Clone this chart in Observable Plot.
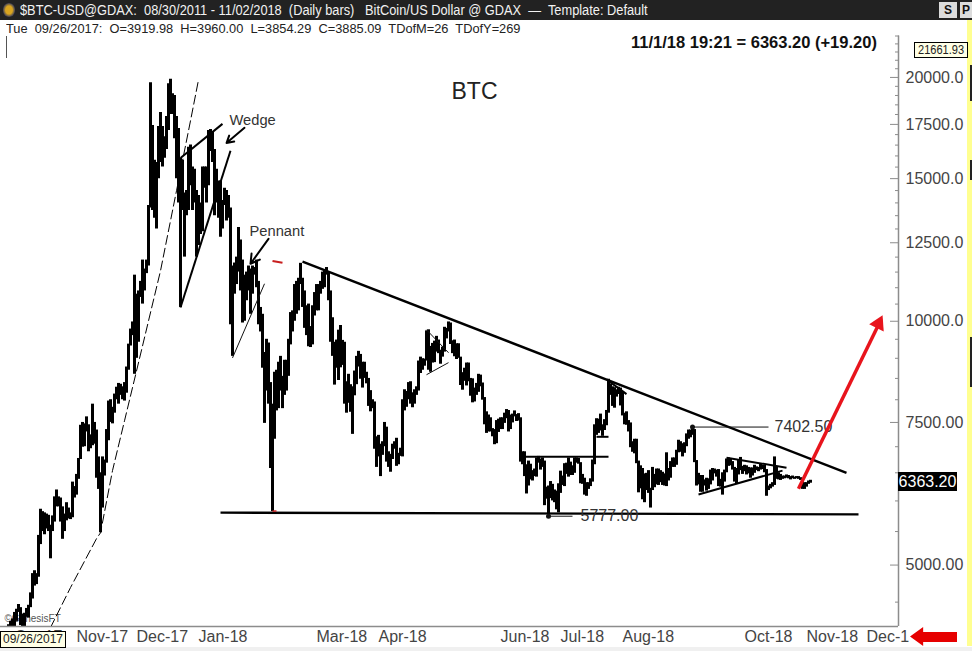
<!DOCTYPE html>
<html><head><meta charset="utf-8">
<script src="https://cdn.jsdelivr.net/npm/d3@7"></script>
<script src="https://cdn.jsdelivr.net/npm/@observablehq/plot@0.6"></script>
<style>
html,body{margin:0;padding:0;background:#fff;width:972px;height:651px;overflow:hidden;font-family:"Liberation Sans",Arial,sans-serif}
.abs{position:absolute;white-space:pre}
#bar{left:0;top:0;width:972px;height:20px;background:#222}
#title{left:20px;top:2px;color:#f2f2f2;font-size:14px;line-height:16px;transform:scaleX(.915);transform-origin:0 0}
#emblem{left:3px;top:3px;width:12px;height:14px;border-radius:6px;background:radial-gradient(#d9a520 40%,#27305e 75%)}
.btn{top:2px;height:16px;background:#dcdcdc;color:#111;font:bold 12px/16px "Liberation Sans";text-align:center}
#info{left:6px;top:21px;color:#222;font-size:13px;line-height:15px;transform:scaleX(.985);transform-origin:0 0}
#quote{left:631px;top:33px;color:#111;font-size:16.5px;line-height:19px;font-weight:bold}
#cursor{left:6px;top:36px;width:1px;height:22px;background:#555}
#chart{left:0;top:20px}
#hi{left:914px;top:42px;width:52px;height:14px;background:#ffffe6;border:1px solid #000;color:#222;font-size:12px;line-height:14px;text-align:center}
#hi span{display:inline-block;transform:scaleX(.92)}
#last{left:898px;top:472px;width:59px;height:19px;background:#000;color:#fff;font-size:16px;line-height:19px;text-align:center}
#datebox{left:0;top:631px;width:64px;height:15px;background:#ffffe6;border:1px solid #000;color:#222;font-size:12px;line-height:15px;text-align:center}
#strip{left:967px;top:20px;width:5px;height:626px;background:#ffff90}
.nub{left:970px;width:2px;background:#222}
#foot{left:0;top:647px;width:972px;height:4px;background:#f0f0f0}
#cover{left:909px;top:627px;width:14px;height:19px;background:#fff}
#redarrow{left:910px;top:627px;width:47px;height:19px;background:#e60000;clip-path:polygon(0 50%,28% 0,28% 26%,100% 26%,100% 79%,28% 79%,28% 100%)}
</style></head><body>
<div class="abs" id="strip"></div>
<div class="abs nub" style="top:65px;height:36px"></div>
<div class="abs nub" style="top:160px;height:20px"></div>
<div class="abs nub" style="top:337px;height:50px"></div>
<div class="abs" id="foot"></div>
<div class="abs" id="chart"></div>
<div class="abs" id="bar"></div>
<div class="abs" id="emblem"></div>
<div class="abs" id="title">$BTC-USD@GDAX:  08/30/2011 - 11/02/2018  (Daily bars)   BitCoin/US Dollar @ GDAX  —  Template: Default</div>
<div class="abs btn" style="left:939px;width:18px">S</div>
<div class="abs btn" style="left:960px;width:12px">P</div>
<div class="abs" id="info">Tue  09/26/2017:  O=3919.98  H=3960.00  L=3854.29  C=3885.09  TDofM=26  TDofY=269</div>
<div class="abs" id="cursor"></div>
<div class="abs" id="quote">11/1/18 19:21 = 6363.20 (+19.20)</div>
<div class="abs" id="hi"><span>21661.93</span></div>
<div class="abs" id="last">6363.20</div>
<div class="abs" id="datebox">09/26/2017</div>
<div class="abs" id="cover"></div>
<div class="abs" id="redarrow"></div>
<script>
const firstDay = "2017-09-23";
const highs = [
3820,3770,3980,3960,4220,4260,4290,4370,
4410,4470,4430,4350,4360,4420,4460,4620,4880,4920,4880,5440,5860,5820,5800,5780,5760,5600,5750,6070,6190,6070,6050,5900,5780,5970,5880,5800,6330,6250,6470,
6770,7440,7500,7470,7620,7450,7240,7900,7500,7340,6800,6500,6800,6740,7350,7970,8000,7830,8130,8290,8380,8360,8300,8400,8780,9370,9780,9980,11400,10800,
10900,11200,11900,11600,11900,13900,19700,17450,15800,15700,17400,18100,17400,16900,17900,19650,19890,19100,19000,17900,17300,15900,15800,14400,14500,16400,16500,15500,15400,14500,14300,
14000,15500,15500,15500,17200,17250,17100,16300,15400,14900,14900,14100,14600,14500,14300,13800,11700,11800,12000,13050,12600,11900,11400,11500,11700,11600,11700,11650,11900,11200,10400,
10200,9150,9500,9400,8400,7900,8650,8700,8900,9050,8550,8950,8950,9500,10250,10300,11100,11200,11300,11790,11300,10900,10450,10500,9850,10450,10850,11100,
11100,11200,11500,11520,11650,11500,10900,10100,9420,9480,9750,9880,9470,9420,8420,8600,8350,8300,8680,9050,9180,9100,8900,8900,8650,8500,8210,8000,7950,7200,7230,
7050,7100,7500,7400,6900,6850,7050,7100,7170,6870,6970,8000,8230,8190,8400,8420,8160,8230,8300,8930,9030,8990,8980,9730,9760,9310,9390,9450,9580,9480,
9210,9290,9830,9800,9980,9950,9460,9480,9380,9380,9030,8640,8750,8880,8880,8500,8490,8270,8380,8600,8580,8390,8050,7730,7660,7600,7370,7350,7540,7570,7600,
7600,7700,7780,7760,7660,7680,7750,7670,7690,7600,6900,6900,6650,6720,6660,6540,6570,6780,6810,6760,6780,6720,6240,6260,6340,6290,6190,6170,6300,6530,
6440,6670,6680,6780,6700,6630,6780,6780,6770,6690,6470,6400,6320,6320,6390,6740,7450,7580,7570,7680,7450,7560,7760,8480,8360,8300,8280,8230,8290,8270,8180,
7700,7730,7540,7490,7100,7150,7150,6720,6630,6580,6480,6490,6540,6220,6600,6470,6570,6570,6540,6510,6480,6880,6580,6710,6780,6780,6930,7130,7100,7060,7080,
7260,7340,7340,7402,7350,6730,6490,6450,6450,6370,6400,6390,6550,6580,6570,6550,6560,6380,6500,6550,6760,6780,6770,6710,6600,6580,6740,6790,6620,6640,
6630,6600,6590,6590,6640,6610,6600,6670,6640,6640,6560,6260,6290,6320,6800,6600,6500,6470,6440,6440,6460,6450,6430,6440,6420,6430,6430,6410,6390,6320,6320,
6350,6363];
const lows = [
3630,3650,3660,3854,3880,4080,3980,4150,
4260,4370,4210,4190,4140,4310,4300,4430,4540,4710,4730,4830,5300,5500,5450,5540,5500,5090,5500,5650,5900,5900,5650,5380,5500,5670,5700,5690,5720,6050,6100,
6380,6750,6990,7000,7300,6900,6960,7020,7050,6400,6200,5480,5880,6440,6680,7120,7500,7470,7700,8000,7900,8100,8000,7970,8150,8700,9320,9600,8600,9000,
9420,10700,10500,10900,11450,11700,13800,13700,13400,13000,15000,15700,15500,15900,16300,17200,18000,18000,16800,15000,14000,10400,13700,12000,13500,13700,14700,13700,14000,12000,12400,
12800,12900,14600,14000,14700,16200,15700,13500,14000,13400,12700,13000,13900,13300,13400,9900,9050,10800,11100,11500,10900,9950,10000,10600,10900,10200,10800,11400,11000,9900,9700,
8750,7480,8200,7900,6580,5820,7150,7750,7800,8200,7800,8100,8200,8550,9350,9700,10000,10200,10300,11100,10400,9800,9600,9300,9280,9350,10150,10300,
10300,10800,10950,11000,11400,10600,9420,9050,8340,8750,8450,8760,8820,7900,7700,7920,7720,7250,8090,8350,8780,8480,8270,8500,8370,7850,7730,7800,6950,6600,6800,
6430,6830,7000,6700,6600,6510,6750,6950,6620,6650,6810,6800,7750,7830,8000,7900,7820,7900,8100,8200,8620,8700,8800,8930,8700,8650,8880,8890,9160,9120,
8850,9030,9160,9510,9700,9360,9120,9040,8970,9000,8330,8220,8430,8320,8420,8080,7930,7950,8100,8170,8300,7990,7450,7270,7300,7300,7200,7040,7060,7290,7350,
7350,7480,7580,7300,7350,7490,7620,7520,7530,6700,6650,6430,6120,6260,6370,6350,6430,6420,6680,6550,6600,5920,6030,5777,6040,6000,5970,5850,5800,6130,
6270,6250,6470,6420,6450,6450,6490,6680,6660,6300,6290,6100,6080,6200,6250,6330,6650,7230,7270,7320,7210,7330,7430,7700,8100,7850,7810,8060,8120,7860,7640,
7450,7440,7300,6980,6890,6860,6670,6140,6210,6020,5970,6180,6130,5880,6180,6230,6280,6270,6320,6270,6260,6250,6350,6400,6600,6600,6640,6880,6890,6800,6870,
7000,7150,7180,7230,6690,6260,6280,6150,6150,6260,6170,6200,6280,6350,6480,6420,6250,6240,6100,6330,6500,6620,6630,6550,6330,6300,6460,6540,6470,6520,
6460,6480,6400,6440,6490,6540,6520,6550,6560,6500,6080,6180,6210,6240,6270,6380,6370,6360,6380,6390,6400,6390,6370,6390,6380,6390,6380,6360,6200,6200,6240,
6290,6310];

const majorTicks = [5000,7500,10000,12500,15000,17500,20000];
const majorLabels = ["5000.00","7500.00","10000.0","12500.0","15000.0","17500.0","20000.0"];
const minorTicks = [4500,5500,6000,6500,7000,8000,8500,9000,9500,10500,11000,11500,12000,13000,13500,14000,14500,15500,16000,16500,17000,18000,18500,19000,19500,20500,21000,21500,22000,22500];
const monthTicks = ["2017-10-01","2017-11-01","2017-12-01","2018-01-01","2018-03-01","2018-04-01","2018-06-01","2018-07-01","2018-08-01","2018-10-01","2018-11-01","2018-12-01"];

// trend lines and notes: [date, price, date, price]
const heavyLines = [
  ["2018-02-21",11850,"2018-11-20",6500],
  ["2018-01-11",5804,"2018-11-26",5775]
];
const mediumLines = [
  ["2017-12-22",15910,"2018-01-12",17527],
  ["2017-12-22",10400,"2018-01-16",16235],
  ["2018-06-11",6805,"2018-07-24",6805],
  ["2018-07-18",7200,"2018-07-24",7200],
  ["2018-07-24",8440,"2018-08-02",8130],
  ["2018-09-07",6110,"2018-10-19",6540],
  ["2018-09-21",6785,"2018-10-21",6595]
];
const thinLines = [
  ["2018-01-17",9010,"2018-02-02",11125],
  ["2018-04-24",9760,"2018-05-05",9145],
  ["2018-04-24",8590,"2018-05-05",8890],
  ["2018-09-04",7402.5,"2018-10-12",7402.5],
  ["2018-06-24",5745,"2018-07-06",5745]
];
const redDash = [["2018-02-06",11870,"2018-02-11",11810]];
const redSpeck = [["2018-02-06",5830,"2018-02-08",5830]];
const blackArrows = [
  ["2018-01-23",17330,"2018-01-14",16600],
  ["2018-02-04",12640,"2018-01-26",11775]
];
const redArrow = [["2018-10-27",6210,"2018-12-06",9900]];
const redTip = [{date:"2018-12-06",price:9930}];
const dashedDates = ["2017-10-18","2017-10-28","2017-11-10","2017-11-12","2017-11-18","2017-11-24","2017-11-30","2017-12-12","2017-12-20","2017-12-27","2017-12-31"];
const dashedPrices = [4186,4690,5390,5480,6540,7535,8680,11540,14490,17680,19860];
const pivotDates = ["2018-06-24","2018-09-04"];
const pivotPrices = [5745,7402.5];
const notes = [
  {text:"Wedge",date:"2018-01-15",price:17730},
  {text:"Pennant",date:"2018-01-25",price:12930}
];
const levelNotes = [
  {text:"5777.00",date:"2018-07-10",price:5745},
  {text:"7402.50",date:"2018-10-15",price:7402.5}
];
const heading = [{text:"BTC",date:"2018-05-18",price:19190}];
const credit = [{text:"©GenesisFT",date:"2017-09-25",price:4295}];

const D = s => new Date(s + "T00:00:00Z");
const bars = highs.map((h,i)=>({date:d3.utcDay.offset(D(firstDay),i),high:h,low:lows[i]}));
const dashed = dashedDates.map((s,i)=>({date:D(s),price:dashedPrices[i]}));
const pivots = pivotDates.map((s,i)=>({date:D(s),price:pivotPrices[i]}));
const seg = {x1:d=>D(d[0]),y1:d=>d[1],x2:d=>D(d[2]),y2:d=>d[3]};
const xEnd = D("2018-12-16"), yMin = 4200, yMax = 22500;
const ink = "#444";
const axisGray = "#8c8c8c";
const labelFor = new Map(majorTicks.map((t,i)=>[t,majorLabels[i]]));
const textAt = {x:d=>D(d.date),y:"price",text:"text",fontFamily:"Liberation Sans"};

const chart = Plot.plot({
  width:972,height:631,
  marginLeft:0,marginRight:74,marginTop:15.5,marginBottom:25.1,
  style:{background:"transparent",fontFamily:"Liberation Sans",overflow:"visible"},
  x:{type:"utc",domain:[D(firstDay),xEnd]},
  y:{type:"log",domain:[yMin,yMax]},
  marks:[
    Plot.text(credit,{...textAt,textAnchor:"start",fontSize:10,fill:"#555"}),
    Plot.ruleX(bars,{x:"date",y1:"low",y2:"high",stroke:"#000",strokeWidth:3,clip:true}),
    Plot.line(dashed,{x:"date",y:"price",stroke:"#000",strokeWidth:1,strokeDasharray:"9,4",clip:true}),
    Plot.link(heavyLines,{...seg,stroke:"#000",strokeWidth:2.4}),
    Plot.link(mediumLines,{...seg,stroke:"#000",strokeWidth:2}),
    Plot.link(thinLines,{...seg,stroke:"#111",strokeWidth:1}),
    Plot.link(redDash,{...seg,stroke:"#c81e1e",strokeWidth:2}),
    Plot.link(redSpeck,{...seg,stroke:"#c81e1e",strokeWidth:1.5}),
    Plot.arrow(blackArrows,{...seg,stroke:"#000",strokeWidth:2,bend:0,headLength:9}),
    Plot.dot(pivots,{x:"date",y:"price",r:2.5,fill:"#111"}),
    Plot.text(notes,{...textAt,textAnchor:"start",fontSize:14.7,fill:"#333",dx:1}),
    Plot.text(levelNotes,{...textAt,textAnchor:"start",fontSize:16,fill:"#333"}),
    Plot.text(heading,{...textAt,fontSize:23,fill:"#222"}),
    Plot.link(redArrow,{...seg,stroke:"#e8141c",strokeWidth:3.5}),
    Plot.dot(redTip,{x:d=>D(d.date),y:"price",symbol:"triangle",r:6,rotate:26,fill:"#e8141c"}),
    Plot.ruleY([yMin],{stroke:axisGray,strokeWidth:1.5}),
    Plot.ruleX([xEnd],{y1:yMin,y2:yMax,stroke:axisGray,strokeWidth:1.5}),
    Plot.axisY(minorTicks,{anchor:"right",tickSize:-4,tickPadding:0,tickFormat:()=>"",stroke:axisGray}),
    Plot.axisY(majorTicks,{anchor:"right",tickSize:-9,tickPadding:16,label:null,tickFormat:t=>labelFor.get(t),stroke:axisGray,fill:ink,fontSize:16}),
    Plot.axisX(monthTicks.map(D),{anchor:"bottom",tickSize:0,tickPadding:4,dx:-2,label:null,textAnchor:"start",tickFormat:d3.utcFormat("%b-%y"),fill:ink,fontSize:16})
  ]
});
document.getElementById("chart").append(chart);
</script>
</body></html>
